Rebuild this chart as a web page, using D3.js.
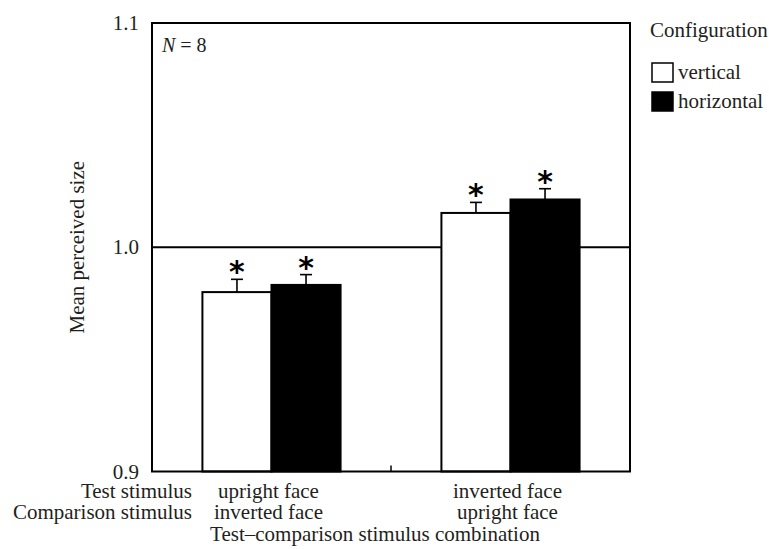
<!DOCTYPE html>
<html>
<head>
<meta charset="utf-8">
<script src="https://cdn.jsdelivr.net/npm/d3@7"></script>
<style>
  body { margin: 0; background: #fff; }
  text { font-family: "Liberation Serif", "Times New Roman", serif; fill: #231f20; }
</style>
</head>
<body>
<svg id="chart" width="769" height="549"></svg>
<script>
// data
const groups = ['upright-inverted', 'inverted-upright'];
const testLabels = ['upright face', 'inverted face'];
const compLabels = ['inverted face', 'upright face'];
const configs = ['vertical', 'horizontal'];
const verticalMeans = [0.980, 1.0153];
const horizontalMeans = [0.9832, 1.0213];
const verticalErr = [0.0057, 0.0047];
const horizontalErr = [0.0046, 0.0048];
const yTicks = [0.9, 1.0, 1.1];

const fs = '21px';
const margin = { top: 23, left: 152, right: 139, bottom: 77.5 };
const svg = d3.select('#chart');
const width = 769 - margin.left - margin.right;
const height = 549 - margin.top - margin.bottom;

const chart = svg.append('g')
    .attr('transform', `translate(${margin.left},${margin.top})`);

const y = d3.scaleLinear().domain([0.9, 1.1]).range([height, 0]);
const x0 = d3.scaleBand().domain(groups).range([0, width]);
const x1 = d3.scaleBand().domain(configs).range([0, x0.bandwidth()])
    .paddingInner(0).paddingOuter(0.73);
const fill = d3.scaleOrdinal().domain(configs).range(['#fff', '#000']);

// rows for bars
const rows = [];
groups.forEach((g, i) => {
    rows.push({ g, c: 'vertical', v: verticalMeans[i], e: verticalErr[i] });
    rows.push({ g, c: 'horizontal', v: horizontalMeans[i], e: horizontalErr[i] });
});

// reference line at 1.0
chart.append('line')
    .attr('x1', 0).attr('x2', width)
    .attr('y1', y(1.0)).attr('y2', y(1.0))
    .attr('stroke', '#000').attr('stroke-width', 2);

chart.selectAll('rect.bar')
    .data(rows)
    .enter()
    .append('rect')
    .attr('class', 'bar')
    .attr('x', d => x0(d.g) + x1(d.c))
    .attr('y', d => y(d.v))
    .attr('width', x1.bandwidth())
    .attr('height', d => y(0.9) - y(d.v))
    .attr('fill', d => fill(d.c))
    .attr('stroke', '#000')
    .attr('stroke-width', 2);

// error bars (upper only)
const eb = chart.selectAll('g.err')
    .data(rows)
    .enter()
    .append('g')
    .attr('class', 'err')
    .attr('transform', d => `translate(${x0(d.g) + x1(d.c) + x1.bandwidth() / 2},0)`);

eb.append('line')
    .attr('y1', d => y(d.v)).attr('y2', d => y(d.v + d.e))
    .attr('stroke', '#000').attr('stroke-width', 1.6);
eb.append('line')
    .attr('x1', -6).attr('x2', 6)
    .attr('y1', d => y(d.v + d.e)).attr('y2', d => y(d.v + d.e))
    .attr('stroke', '#000').attr('stroke-width', 1.6);
eb.append('text')
    .attr('y', d => y(d.v + d.e) + 3)
    .attr('text-anchor', 'middle')
    .style('font-family', '"DejaVu Sans", sans-serif')
    .style('font-weight', 'bold')
    .style('font-size', '30px')
    .style('fill', '#000')
    .text('*');

// frame
chart.append('rect')
    .attr('width', width).attr('height', height)
    .attr('fill', 'none')
    .attr('stroke', '#000').attr('stroke-width', 2);

// middle tick on the bottom
chart.append('line')
    .attr('x1', width / 2).attr('x2', width / 2)
    .attr('y1', height).attr('y2', height - 6)
    .attr('stroke', '#000').attr('stroke-width', 1.5);

// y axis labels
const yAxis = d3.axisLeft(y).tickValues(yTicks).tickFormat(d3.format('.1f'))
    .tickSize(0).tickPadding(13);
const yg = chart.append('g').call(yAxis);
yg.select('.domain').remove();
yg.selectAll('text')
    .style('font-family', '"Liberation Serif", serif')
    .style('font-size', fs)
    .attr('fill', '#231f20');

chart.append('text')
    .attr('transform', `translate(${84 - margin.left},${height / 2}) rotate(-90)`)
    .attr('text-anchor', 'middle')
    .style('font-size', fs)
    .text('Mean perceived size');

// N label
const nText = chart.append('text')
    .attr('x', 10).attr('y', 29)
    .style('font-size', '20px');
nText.append('tspan').style('font-style', 'italic').text('N');
nText.append('tspan').text(' = 8');

// x labels
const bottom = chart.append('g').attr('transform', `translate(0,${height})`);
bottom.append('text').attr('x', 192 - margin.left).attr('y', 26.5)
    .attr('text-anchor', 'end')
    .style('font-size', fs).text('Test stimulus');
bottom.append('text').attr('x', 192 - margin.left).attr('y', 47)
    .attr('text-anchor', 'end')
    .style('font-size', fs).text('Comparison stimulus');
bottom.selectAll('text.test')
    .data(groups).enter().append('text')
    .attr('class', 'test')
    .attr('x', d => x0(d) + x0.bandwidth() / 2 - 3)
    .attr('y', 26.5)
    .attr('text-anchor', 'middle')
    .style('font-size', fs)
    .text((d, i) => testLabels[i]);
bottom.selectAll('text.comp')
    .data(groups).enter().append('text')
    .attr('class', 'comp')
    .attr('x', d => x0(d) + x0.bandwidth() / 2 - 3)
    .attr('y', 47)
    .attr('text-anchor', 'middle')
    .style('font-size', fs)
    .text((d, i) => compLabels[i]);
bottom.append('text')
    .attr('x', 375 - margin.left).attr('y', 69)
    .attr('text-anchor', 'middle')
    .style('font-size', fs)
    .text('Test\u2013comparison stimulus combination');

// legend
const legend = svg.append('g').attr('transform', 'translate(650,0)');
legend.append('text').attr('x', 0).attr('y', 37)
    .style('font-size', fs).text('Configuration');
const li = legend.selectAll('g.item')
    .data(configs).enter().append('g')
    .attr('class', 'item')
    .attr('transform', (d, i) => `translate(2,${63 + i * 29})`);
li.append('rect')
    .attr('width', 21).attr('height', 19)
    .attr('fill', d => fill(d))
    .attr('stroke', '#000').attr('stroke-width', 1.5);
li.append('text')
    .attr('x', 26).attr('y', 15.5)
    .style('font-size', fs)
    .text(d => d);
</script>
</body>
</html>
